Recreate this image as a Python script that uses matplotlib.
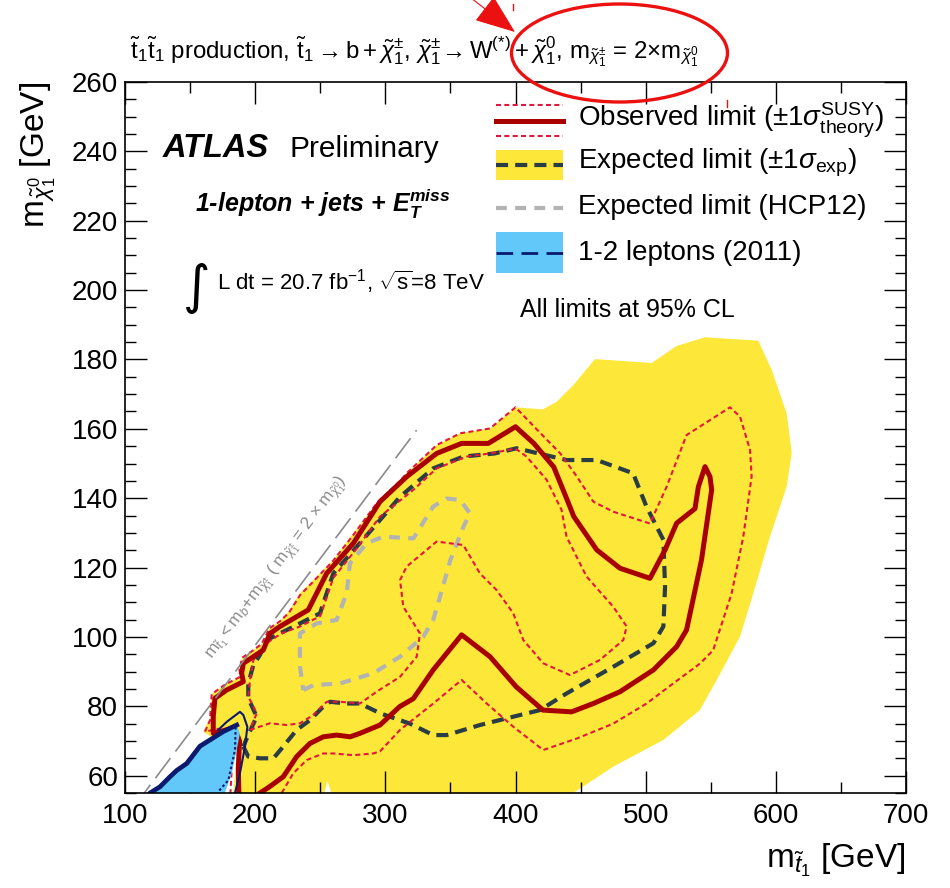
import numpy as np
import matplotlib
matplotlib.use("Agg")
import matplotlib.pyplot as plt
from matplotlib.lines import Line2D
from matplotlib.patches import Rectangle, Ellipse, FancyArrowPatch

plt.rcParams['font.family'] = ['Liberation Sans', 'DejaVu Sans']
plt.rcParams['mathtext.fontset'] = 'custom'
plt.rcParams['mathtext.rm'] = 'Liberation Sans'
plt.rcParams['mathtext.it'] = 'Liberation Sans:italic'
plt.rcParams['mathtext.bf'] = 'Liberation Sans:italic:bold'

# contours in (m_stop, m_neutralino) [GeV]
obs_m = [203.7, 211.4, 221.6, 231.9, 242.1, 252.3, 262.6, 272.9, 280.5, 295.9, 311.0, 321.5,
         336.8, 358.6, 380.4, 400.6, 421.1, 443.1, 459.8, 480.3, 506.0, 523.8, 531.4, 542.9,
         550.7, 549.4, 545.6, 540.5, 537.9, 523.8, 514.9, 503.3, 480.3, 462.4, 444.8, 439.7,
         429.4, 414.1, 400.0, 379.1, 358.6, 339.4, 316.4, 295.9, 275.4, 254.9, 240.8, 219.0,
         211.4, 206.2, 198.6, 190.9, 189.6, 190.9, 178.1, 169.1, 167.8, 167.8, 176.0, 184.0,
         188.0, 187.0, 187.5]
obs_v = [55.0, 56.9, 59.7, 65.5, 69.3, 71.2, 71.7, 71.2, 72.2, 74.6, 79.9, 82.2,
         90.5, 100.6, 94.3, 85.6, 78.9, 78.4, 80.8, 84.2, 90.5, 97.2, 102.0, 122.2,
         142.4, 146.2, 149.1, 143.3, 137.0, 132.8, 125.1, 116.9, 119.8, 125.1, 134.7, 139.5,
         149.0, 155.8, 160.6, 155.8, 155.8, 152.9, 146.2, 139.0, 127.0, 118.3, 107.8, 103.0,
         101.0, 96.2, 94.3, 92.4, 89.5, 87.1, 84.7, 82.3, 77.0, 72.2, 73.0, 74.0,
         70.0, 62.0, 55.0]

obs_up_m = [220.4, 229.3, 239.6, 252.3, 260.0, 275.4, 290.7, 295.9, 311.3, 336.8, 358.6, 377.9,
            398.3, 421.3, 447.0, 475.1, 500.7, 521.2, 541.7, 551.9, 566.0, 575.0, 581.4, 580.2,
            572.5, 564.8, 531.4, 516.1, 503.3, 475.1, 459.8, 447.2, 434.4, 416.7, 400.0, 380.4,
            357.4, 339.4, 316.4, 311.3, 293.3, 275.4, 260.0, 244.7, 234.4, 226.0, 219.0, 211.0,
            205.0, 198.0, 190.0, 188.0, 188.5, 177.0, 166.6, 165.3, 161.5, 172.0, 180.0, 182.0,
            181.0]
obs_up_v = [55.0, 60.7, 64.5, 66.4, 66.4, 65.9, 66.4, 67.0, 73.2, 80.8, 87.6, 80.8,
            74.1, 67.4, 70.7, 75.0, 80.8, 86.6, 92.3, 96.2, 112.5, 128.9, 146.2, 153.9,
            163.5, 166.2, 158.2, 143.3, 132.7, 136.1, 139.0, 146.2, 152.9, 159.7, 166.2, 160.1,
            158.7, 155.3, 147.2, 145.0, 138.5, 129.4, 122.0, 116.0, 112.0, 107.0, 104.5, 102.5,
            98.0, 96.0, 94.0, 90.5, 88.5, 86.3, 83.5, 76.0, 72.7, 73.5, 70.0, 62.0,
            55.0]

obs_dn_m = [196.0, 211.4, 224.2, 234.4, 244.7, 255.0, 265.2, 280.5, 293.3, 311.3, 324.1, 326.6,
            313.8, 311.3, 316.4, 339.4, 359.9, 372.7, 385.5, 398.3, 406.0, 421.3, 441.9, 465.0,
            482.8, 485.4, 475.1, 454.6, 439.2, 435.4, 423.9, 408.5, 400.0, 380.4, 362.5, 339.4,
            321.5, 295.9, 278.0, 260.0, 250.0, 234.4, 220.0, 208.9, 202.0, 198.6, 196.0, 194.7,
            201.2, 196.0]
obs_dn_v = [73.2, 75.1, 74.6, 75.1, 77.5, 81.3, 81.3, 80.8, 84.2, 88.5, 94.3, 101.0,
            108.7, 116.4, 120.3, 127.5, 126.5, 118.3, 113.5, 106.8, 99.1, 92.4, 89.0, 93.4,
            99.1, 103.0, 108.7, 117.4, 128.9, 136.6, 145.3, 152.0, 154.3, 152.9, 152.0, 148.6,
            142.4, 134.7, 125.5, 117.0, 106.0, 103.0, 101.0, 98.2, 95.0, 93.3, 87.6, 82.8,
            78.0, 73.2]

exp_m = [190.9, 194.7, 203.7, 214.0, 221.6, 231.9, 242.1, 252.3, 257.5, 270.3, 280.5, 295.9,
         318.9, 336.8, 347.1, 372.7, 398.3, 418.8, 439.2, 475.1, 506.0, 513.6, 514.9, 513.6,
         500.7, 490.3, 462.4, 439.2, 400.9, 384.0, 359.9, 336.8, 311.3, 295.9, 278.0, 260.0,
         249.8, 234.4, 208.9, 203.7, 198.6, 194.7, 194.7, 201.2, 195.0, 190.9]
exp_v = [68.4, 65.5, 65.0, 65.0, 68.4, 73.2, 76.0, 79.9, 81.3, 80.8, 80.8, 78.0,
         75.0, 71.7, 71.7, 74.6, 77.0, 78.9, 83.7, 91.4, 98.2, 103.0, 114.5, 128.0,
         137.5, 147.2, 151.0, 151.0, 154.4, 152.9, 152.0, 148.6, 140.4, 133.7, 126.0, 118.3,
         106.8, 103.9, 99.1, 94.8, 91.9, 86.6, 82.3, 77.0, 72.0, 68.4]

band_m = [183.0, 186.0, 187.0, 176.0, 167.0, 160.0, 165.3, 166.6, 177.0, 188.5, 188.0, 190.0,
          198.0, 205.0, 211.0, 219.0, 226.0, 234.4, 244.7, 260.0, 275.4, 293.3, 311.3, 316.4,
          339.4, 357.4, 380.4, 400.0, 421.0, 431.6, 444.4, 461.0, 504.6, 523.8, 545.6, 586.6,
          596.8, 608.3, 612.2, 608.3, 595.5, 582.7, 572.5, 554.6, 541.7, 513.6, 475.1, 444.4,
          258.5, 255.5, 253.0, 183.0]
band_v = [55.0, 64.0, 70.0, 73.0, 71.0, 72.7, 76.5, 83.5, 86.3, 88.5, 90.5, 94.0,
          96.0, 98.0, 102.5, 104.5, 107.5, 112.6, 116.4, 122.2, 129.9, 138.5, 145.3, 147.2,
          155.3, 158.7, 160.1, 166.2, 165.6, 167.8, 172.6, 180.1, 179.0, 183.9, 186.4, 185.4,
          177.0, 164.5, 153.0, 143.3, 128.9, 112.6, 100.1, 87.6, 78.9, 70.3, 62.6, 55.0,
          55.0, 58.5, 55.0, 55.0]

hcp_m = [237.0, 244.7, 265.2, 290.7, 311.3, 329.2, 336.8, 342.0, 350.0, 360.0, 365.1, 357.4,
         347.1, 336.8, 321.5, 298.4, 285.6, 272.8, 270.3, 262.6, 247.2, 234.4, 234.4, 237.0]
hcp_v = [84.7, 86.1, 86.6, 89.5, 94.3, 100.1, 104.9, 111.6, 122.2, 131.8, 135.6, 139.5,
         139.9, 137.6, 128.4, 128.9, 127.0, 121.2, 112.6, 104.9, 103.9, 101.0, 91.4, 84.7]

lep_m = [117.0, 119.2, 126.9, 134.6, 139.7, 147.4, 152.5, 157.6, 165.3, 175.5, 185.8, 188.3,
         185.8, 182.0, 176.8]
lep_v = [54.0, 55.0, 56.8, 59.7, 61.5, 63.5, 66.0, 68.5, 70.3, 72.7, 74.6, 72.2,
         67.4, 60.7, 55.0]
lep_out_m = [171.7, 178.1, 188.3, 190.9, 194.0, 192.2, 188.3, 184.5]
lep_out_v = [73.2, 75.5, 78.4, 77.5, 74.1, 68.4, 60.7, 55.0]
lep_in_m = [185.0, 184.5, 179.4, 171.7]
lep_in_v = [74.0, 67.4, 58.7, 55.4]

# kinematic boundary m_stop = m_b + 2 m_chi0
kin_m = np.array([108.0, 324.0])
m_b = 4.8

W, H = 950, 888
fig = plt.figure(figsize=(9.5, 8.88), dpi=100)
ax = fig.add_axes([125 / W, 1 - 793 / H, 781 / W, 711 / H])

yellow = '#fde83a'
dark_red = '#a80000'
pink = '#e4163f'
slate = '#2a3d44'
grey = '#b3b3b3'
sky = '#62c8fa'
navy = '#0b1a6e'

ax.fill(band_m, band_v, color=yellow, lw=0, zorder=1)
ax.plot(hcp_m, hcp_v, color=grey, lw=3.0, dashes=(2.6, 2.0), zorder=2)
ax.plot(exp_m, exp_v, color=slate, lw=3.0, dashes=(2.9, 1.7), zorder=3)
ax.plot(obs_up_m, obs_up_v, color=pink, lw=1.5, dashes=(2.4, 1.6), zorder=4)
ax.plot(obs_dn_m, obs_dn_v, color=pink, lw=1.5, dashes=(2.4, 1.6), zorder=4)
ax.plot(obs_m, obs_v, color=dark_red, lw=3.6, zorder=5)

ax.fill(lep_m, lep_v, color=sky, lw=0, zorder=6)
ax.plot(lep_m[:11], lep_v[:11], color=navy, lw=3.4, zorder=7)
ax.plot(lep_out_m, lep_out_v, color=navy, lw=1.5, zorder=7)
ax.plot(lep_in_m, lep_in_v, color=navy, lw=1.5, dashes=(1.2, 1.2), zorder=7)

ax.plot(kin_m, (kin_m - m_b) / 2, color='#8a8a8a', lw=1.2, dashes=(15, 5), zorder=8)
ax.text(216.5, 120.0,
        r'$\mathrm{m}_{\tilde{t}_1} < \mathrm{m}_b\!+\!\mathrm{m}_{\tilde{\chi}^{\pm}_1}$ ( $\mathrm{m}_{\tilde{\chi}^{\pm}_1}$ = 2 $\times$ $\mathrm{m}_{\tilde{\chi}^0_1}$)',
        color='#8a8a8a', fontsize=12.5, rotation=53.1, rotation_mode='anchor',
        ha='center', va='center', zorder=8)

ax.set_xlim(100, 700)
ax.set_ylim(55, 260)
ax.set_xticks(np.arange(100, 701, 100))
ax.set_xticks(np.arange(100, 701, 50), minor=True)
ax.set_yticks(np.arange(60, 261, 20))
ax.set_yticks(np.arange(55, 261, 5), minor=True)
ax.tick_params(which='both', direction='in', top=True, right=True, width=1.0, labelsize=20)
ax.tick_params(which='major', length=16)
ax.tick_params(which='minor', length=8)
ax.tick_params(axis='x', pad=7)
ax.tick_params(axis='y', pad=5)
for s in ax.spines.values():
    s.set_linewidth(1.2)
    s.set_zorder(10)

fig.text(906 / W, 1 - 868 / H, r'$\mathrm{m}_{\tilde{t}_1}$ [GeV]', ha='right', va='baseline', fontsize=24)
fig.text(38 / W, 1 - 82 / H, r'$\mathrm{m}_{\tilde{\chi}^0_1}$ [GeV]', rotation=90, ha='center', va='top', fontsize=24)

fig.text(130 / W, 1 - 59 / H,
         r'$\tilde{\mathrm{t}}_1\tilde{\mathrm{t}}_1$ production, $\tilde{\mathrm{t}}_1\rightarrow \mathrm{b}+\tilde{\chi}^{\pm}_1$, '
         r'$\tilde{\chi}^{\pm}_1\!\rightarrow \mathrm{W}^{(*)}+\tilde{\chi}^0_1$, $\mathrm{m}_{\tilde{\chi}^{\pm}_1}$ = 2$\times$m$_{\tilde{\chi}^0_1}$',
         fontsize=17.3, va='baseline')

fig.text(163 / W, 1 - 157 / H, 'ATLAS', fontsize=23.5, fontweight='bold', fontstyle='italic', va='baseline')
fig.text(290 / W, 1 - 157 / H, 'Preliminary', fontsize=21.5, va='baseline')
fig.text(195 / W, 1 - 212 / H, r'1-lepton + jets + $\mathbf{E_T^{miss}}$', fontsize=18,
         fontweight='bold', fontstyle='italic', va='baseline')
fig.text(183 / W, 1 - 303 / H, '\u222b', fontsize=38, family='DejaVu Sans', va='baseline')
fig.text(217 / W, 1 - 290 / H, r'L dt = 20.7 fb$^{-1}$, $\sqrt{\mathrm{s}}$=8 TeV', fontsize=16, va='baseline')

# legend
hx0, hx1, tx = 496 / W, 563 / W, 578 / W
def fy(y):
    return 1 - y / H
fig.add_artist(Line2D([hx0, hx1], [fy(105)] * 2, color=pink, lw=1.5, dashes=(2.4, 1.6)))
fig.add_artist(Line2D([hx0, hx1], [fy(121)] * 2, color=dark_red, lw=3.6))
fig.add_artist(Line2D([hx0, hx1], [fy(136)] * 2, color=pink, lw=1.5, dashes=(2.4, 1.6)))
fig.add_artist(Rectangle((hx0, fy(180)), hx1 - hx0, 30 / H, color=yellow, lw=0, transform=fig.transFigure))
fig.add_artist(Line2D([hx0, hx1], [fy(165)] * 2, color=slate, lw=3.0, dashes=(2.9, 1.7)))
fig.add_artist(Line2D([hx0, hx1], [fy(208)] * 2, color=grey, lw=3.0, dashes=(2.6, 2.0)))
fig.add_artist(Rectangle((hx0, fy(273)), hx1 - hx0, 41 / H, color=sky, lw=0, transform=fig.transFigure))
fig.add_artist(Line2D([hx0, hx1], [fy(253)] * 2, color=navy, lw=2.0, dashes=(6, 3)))

fig.text(tx, fy(120), r'Observed limit ($\pm$1$\sigma^{\mathrm{SUSY}}_{\mathrm{theory}}$)', fontsize=20, va='center')
fig.text(tx, fy(163), r'Expected limit ($\pm$1$\sigma_{\mathrm{exp}}$)', fontsize=20, va='center')
fig.text(tx, fy(207), 'Expected limit (HCP12)', fontsize=20, va='center')
fig.text(tx, fy(253), '1-2 leptons (2011)', fontsize=20, va='center')
fig.text(520 / W, fy(310), 'All limits at 95% CL', fontsize=18, va='center')

# red marking around the mass relation
fig.add_artist(Ellipse((619.5 / W, fy(53)), 216 / W, 98 / H, fill=False, ec='#ec1111', lw=2.4,
                       transform=fig.transFigure))
fig.add_artist(FancyArrowPatch((471 / W, fy(-2)), (515 / W, fy(32)), transform=fig.transFigure,
                               arrowstyle='-|>,head_length=2.6,head_width=1.0', mutation_scale=10,
                               color='#ec1111', lw=0.8, shrinkA=0, shrinkB=0))
fig.add_artist(Line2D([513 / W] * 2, [fy(4), fy(10)], color='#ec1111', lw=1))
fig.add_artist(Line2D([727 / W] * 2, [fy(100), fy(107)], color='#ec1111', lw=1))

fig.savefig('out.png', dpi=100)
